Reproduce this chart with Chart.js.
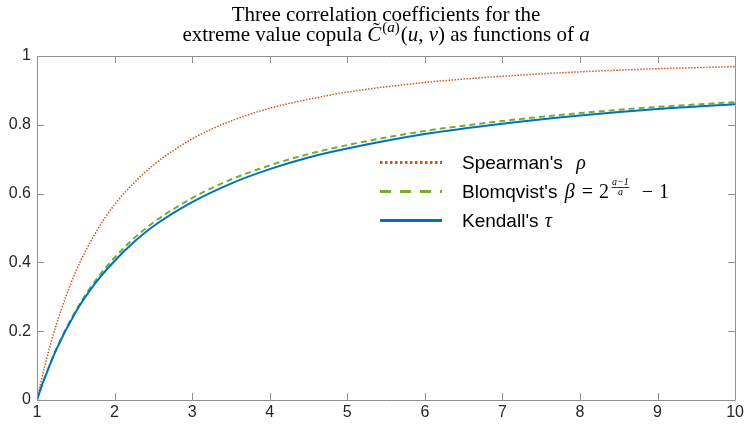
<!DOCTYPE html>
<html>
<head>
<meta charset="utf-8">
<script src="https://cdn.jsdelivr.net/npm/chart.js@4/dist/chart.umd.min.js"></script>
<style>
  html, body { margin: 0; padding: 0; background: #ffffff; }
  #wrap { width: 747px; height: 425px; }
</style>
</head>
<body>
<div id="wrap"><canvas id="c" width="747" height="425"></canvas></div>
<script>
// Parameter a of the copula family
const aValues = [1, 1.05, 1.1, 1.25, 1.5, 1.75, 2, 2.25, 2.5, 3, 3.5, 4, 4.5, 5, 6, 7, 8, 9, 10];

// Spearman's rho
const spearmanRho = [0, 0.052, 0.099, 0.22, 0.373, 0.484, 0.568, 0.631, 0.683, 0.759, 0.811, 0.848, 0.874, 0.895, 0.923, 0.941, 0.954, 0.963, 0.969];

// Blomqvist's beta = 2^((a-1)/a) - 1
const blomqvistBeta = [0, 0.034, 0.065, 0.149, 0.260, 0.346, 0.414, 0.470, 0.516, 0.587, 0.641, 0.682, 0.715, 0.741, 0.782, 0.811, 0.834, 0.852, 0.866];

// Kendall's tau
const kendallTau = [0, 0.034, 0.064, 0.147, 0.256, 0.339, 0.404, 0.459, 0.505, 0.575, 0.629, 0.671, 0.705, 0.731, 0.773, 0.803, 0.827, 0.846, 0.860];

const xTicks = [1, 2, 3, 4, 5, 6, 7, 8, 9, 10];
const yTicks = [0, 0.2, 0.4, 0.6, 0.8, 1];

const SANS = '"Liberation Sans", Arial, Helvetica, sans-serif';
const SERIF = '"Liberation Serif", "DejaVu Serif", serif';
const AXIS_GRAY = '#8f8f8f';
const TEXT_DARK = '#262626';

const toPoints = ys => aValues.map((a, i) => ({ x: a, y: ys[i] }));

// Text runs with mixed fonts, raised parts and small fractions
function measureRuns(ctx, runs) {
  let total = 0;
  for (const r of runs) {
    ctx.font = r.font;
    if (r.frac) {
      const w = Math.max(ctx.measureText(r.frac[0]).width, ctx.measureText(r.frac[1]).width) + 2;
      r.w = w + (r.gap || 0) + (r.pre || 0);
    } else {
      r.w = ctx.measureText(r.t).width + (r.gap || 0) + (r.pre || 0);
    }
    total += r.w;
  }
  return total;
}
function drawRuns(ctx, runs, x, baseline, color) {
  ctx.fillStyle = color;
  ctx.textBaseline = 'alphabetic';
  ctx.textAlign = 'left';
  for (const r of runs) {
    ctx.font = r.font;
    const pre = r.pre || 0;
    if (r.frac) {
      const inner = r.w - (r.gap || 0) - pre;
      const cx = x + pre + inner / 2;
      const nw = ctx.measureText(r.frac[0]).width;
      const dw = ctx.measureText(r.frac[1]).width;
      ctx.fillText(r.frac[0], cx - nw / 2, baseline + r.numDy);
      ctx.fillText(r.frac[1], cx - dw / 2, baseline + r.denDy);
      ctx.fillRect(cx - inner / 2 + 0.5, baseline + r.barDy, inner - 1, 0.8);
    } else {
      ctx.fillText(r.t, x + pre, baseline + (r.dy || 0));
      if (r.tilde) {
        ctx.font = r.tildeFont;
        const tw = ctx.measureText('\u02DC').width;
        const glyphW = r.w - (r.gap || 0) - pre;
        ctx.fillText('\u02DC', x + pre + glyphW / 2 - tw / 2 + r.tildeDx, baseline + r.tildeDy);
      }
    }
    x += r.w;
  }
}

// Two-line title above the plot box
const titlePlugin = {
  id: 'mathTitle',
  afterDraw(chart) {
    const ctx = chart.ctx;
    const ca = chart.chartArea;
    const cx = (ca.left + ca.right) / 2;
    const up = '21px ' + SERIF;
    const it = 'italic 21px ' + SERIF;
    const supUp = '15px ' + SERIF;
    const supIt = 'italic 15px ' + SERIF;
    ctx.save();
    const line1 = [{ t: 'Three correlation coefficients for the', font: up }];
    const line2 = [
      { t: 'extreme value copula ', font: up },
      { t: 'C', font: it, tilde: true, tildeFont: '21px ' + SERIF, tildeDy: -4, tildeDx: 2, gap: 1 },
      { t: '(', font: supUp, dy: -9 },
      { t: 'a', font: supIt, dy: -9 },
      { t: ')', font: supUp, dy: -9, gap: 1 },
      { t: '(', font: up },
      { t: 'u', font: it },
      { t: ', ', font: up },
      { t: 'v', font: it },
      { t: ')', font: up },
      { t: ' as functions of ', font: up },
      { t: 'a', font: it }
    ];
    let w = measureRuns(ctx, line1);
    drawRuns(ctx, line1, cx - w / 2, 21, '#000000');
    w = measureRuns(ctx, line2);
    drawRuns(ctx, line2, cx - w / 2, 41, '#000000');
    ctx.restore();
  }
};

// Box outline and inward tick marks on all four sides
const boxPlugin = {
  id: 'boxTicks',
  afterDatasetsDraw(chart) {
    const ctx = chart.ctx;
    const ca = chart.chartArea;
    const xs = chart.scales.x;
    const ys = chart.scales.y;
    const len = 7;
    ctx.save();
    ctx.strokeStyle = AXIS_GRAY;
    ctx.lineWidth = 1;
    ctx.beginPath();
    ctx.rect(Math.round(ca.left) + 0.5, Math.round(ca.top) + 0.5,
             Math.round(ca.right - ca.left), Math.round(ca.bottom - ca.top));
    ctx.stroke();
    ctx.beginPath();
    for (const v of xTicks) {
      const px = Math.round(xs.getPixelForValue(v)) + 0.5;
      ctx.moveTo(px, ca.bottom); ctx.lineTo(px, ca.bottom - len);
      ctx.moveTo(px, ca.top); ctx.lineTo(px, ca.top + len);
    }
    for (const v of yTicks) {
      const py = Math.round(ys.getPixelForValue(v)) + 0.5;
      ctx.moveTo(ca.left, py); ctx.lineTo(ca.left + len, py);
      ctx.moveTo(ca.right, py); ctx.lineTo(ca.right - len, py);
    }
    ctx.stroke();
    ctx.restore();
  }
};

// Legend with mathematical labels, styled from each dataset
const legendPlugin = {
  id: 'mathLegend',
  afterDraw(chart) {
    const ctx = chart.ctx;
    const txt = '19px ' + SANS;
    const mIt = 'italic 20px ' + SERIF;
    const mUp = '20px ' + SERIF;
    const small = 'italic 10px ' + SERIF;
    const labels = [
      [{ t: "Spearman's  ", font: txt, gap: 3 }, { t: '\u03C1', font: mIt }],
      [{ t: "Blomqvist's ", font: txt, gap: 2 }, { t: '\u03B2', font: mIt, gap: 7 }, { t: '=', font: mUp, gap: 6 },
       { t: '2', font: mUp, gap: 2 },
       { frac: ['a\u22121', 'a'], font: small, numDy: -13, barDy: -11, denDy: -3, gap: 12 },
       { t: '\u2212', font: mUp, gap: 6 }, { t: '1', font: mUp }],
      [{ t: "Kendall's ", font: txt, gap: 1 }, { t: '\u03C4', font: mIt }]
    ];
    const rowY = [162, 191, 220];
    ctx.save();
    chart.data.datasets.forEach((ds, i) => {
      const y = rowY[i];
      ctx.strokeStyle = ds.borderColor;
      ctx.lineWidth = ds.legendWidth;
      ctx.setLineDash(ds.legendDash);
      ctx.beginPath();
      ctx.moveTo(380, y + 0.5);
      ctx.lineTo(442, y + 0.5);
      ctx.stroke();
      ctx.setLineDash([]);
      measureRuns(ctx, labels[i]);
      drawRuns(ctx, labels[i], 462, y + 7, '#000000');
    });
    ctx.restore();
  }
};

new Chart(document.getElementById('c'), {
  type: 'line',
  data: {
    datasets: [
      {
        label: "Spearman's rho",
        data: toPoints(spearmanRho),
        borderColor: '#D95319',
        borderWidth: 1.5,
        borderDash: [1.5, 1.5],
        legendWidth: 3,
        legendDash: [2.5, 2.5],
        order: 2
      },
      {
        label: "Blomqvist's beta",
        data: toPoints(blomqvistBeta),
        borderColor: '#77AC30',
        borderWidth: 2,
        borderDash: [6, 4],
        legendWidth: 3,
        legendDash: [11, 9],
        order: 1
      },
      {
        label: "Kendall's tau",
        data: toPoints(kendallTau),
        borderColor: '#0072BD',
        borderWidth: 2,
        borderDash: [],
        legendWidth: 3,
        legendDash: [],
        order: 0
      }
    ]
  },
  options: {
    responsive: false,
    animation: false,
    devicePixelRatio: 1,
    layout: { padding: { top: 56, right: 9, left: 0, bottom: 0 } },
    elements: {
      point: { radius: 0 },
      line: { cubicInterpolationMode: 'monotone', fill: false }
    },
    plugins: {
      legend: { display: false },
      title: { display: false },
      tooltip: { enabled: false }
    },
    scales: {
      x: {
        type: 'linear',
        min: 1,
        max: 10,
        afterBuildTicks: s => { s.ticks = xTicks.map(v => ({ value: v })); },
        afterFit: s => { s.height = 25; },
        grid: { display: false, drawTicks: false },
        border: { display: false },
        ticks: {
          color: TEXT_DARK,
          font: { family: SANS, size: 16 },
          padding: 3,
          maxRotation: 0,
          autoSkip: false,
          callback: v => String(v)
        }
      },
      y: {
        type: 'linear',
        min: 0,
        max: 1,
        afterBuildTicks: s => { s.ticks = yTicks.map(v => ({ value: v })); },
        afterFit: s => { s.width = 37; },
        grid: { display: false, drawTicks: false },
        border: { display: false },
        ticks: {
          color: TEXT_DARK,
          font: { family: SANS, size: 16 },
          padding: 6,
          autoSkip: false,
          callback: v => String(v)
        }
      }
    }
  },
  plugins: [boxPlugin, titlePlugin, legendPlugin]
});
</script>
</body>
</html>
